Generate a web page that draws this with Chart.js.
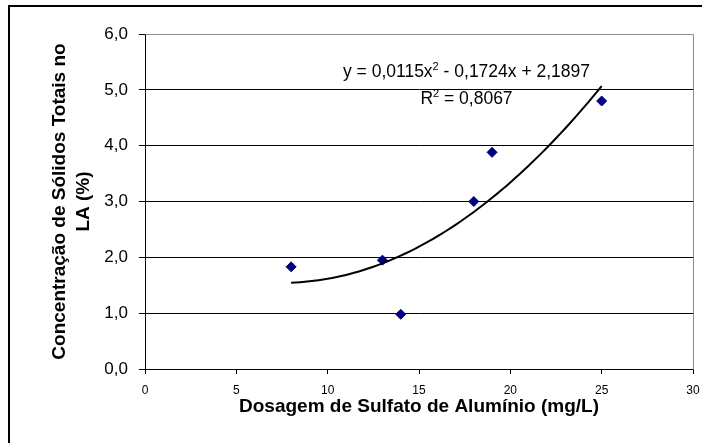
<!DOCTYPE html>
<html>
<head>
<meta charset="utf-8">
<script src="https://cdn.jsdelivr.net/npm/chart.js@4/dist/chart.umd.min.js"></script>
<style>
  html, body { margin: 0; padding: 0; background: #fff; }
  canvas { display: block; }
</style>
</head>
<body>
<canvas id="grafico" width="702" height="443"></canvas>
<script>
// Dados
const dosagem = [8, 13, 14, 18, 19, 25];               // mg/L
const concentracao = [1.83, 1.95, 0.98, 3.0, 3.88, 4.8]; // %

// Linha de tendência polinomial (equação mostrada no gráfico)
const coefTendencia = [0.0115, -0.1724, 2.1897];
const faixaTendencia = [8, 25];
const textoEquacao = ['y = 0,0115x', '2', ' - 0,1724x + 2,1897'];
const textoR2 = ['R', '2', ' = 0,8067'];

const xTicks = [0, 5, 10, 15, 20, 25, 30];
const yTickLabels = ['0,0', '1,0', '2,0', '3,0', '4,0', '5,0', '6,0'];

const FONTE = "'Liberation Sans', Arial, sans-serif";

// pontos da curva a partir da equação
const curva = [];
for (let x = faixaTendencia[0]; x <= faixaTendencia[1] + 1e-9; x += 0.25) {
  curva.push({ x: x, y: coefTendencia[0] * x * x + coefTendencia[1] * x + coefTendencia[2] });
}

// desenha texto com expoente
function textoSobrescrito(ctx, partes, cx, base) {
  const normal = '17.5px ' + FONTE, sup = '11px ' + FONTE;
  ctx.font = normal; const w0 = ctx.measureText(partes[0]).width;
  ctx.font = sup; const w1 = ctx.measureText(partes[1]).width;
  ctx.font = normal; const w2 = ctx.measureText(partes[2]).width;
  let x = cx - (w0 + w1 + w2) / 2;
  ctx.textAlign = 'left';
  ctx.textBaseline = 'alphabetic';
  ctx.font = normal; ctx.fillText(partes[0], x, base); x += w0;
  ctx.font = sup; ctx.fillText(partes[1], x, base - 7); x += w1;
  ctx.font = normal; ctx.fillText(partes[2], x, base);
}

const molduraPlugin = {
  id: 'moldura',
  beforeDraw(chart) {
    const ctx = chart.ctx;
    ctx.save();
    ctx.fillStyle = '#fff';
    ctx.fillRect(0, 0, chart.width, chart.height);
    ctx.strokeStyle = '#000';
    ctx.lineWidth = 2;
    ctx.strokeRect(9, 6, 800, 600);
    ctx.restore();
  },
  beforeDatasetsDraw(chart) {
    const a = chart.chartArea, ctx = chart.ctx;
    ctx.save();
    ctx.strokeStyle = '#8c8c8c';
    ctx.lineWidth = 1;
    ctx.beginPath();
    ctx.moveTo(Math.round(a.left) + 0.5, Math.round(a.top) + 0.5);
    ctx.lineTo(Math.round(a.right) + 0.5, Math.round(a.top) + 0.5);
    ctx.lineTo(Math.round(a.right) + 0.5, Math.round(a.bottom) + 0.5);
    ctx.stroke();
    ctx.restore();
  },
  afterDatasetsDraw(chart) {
    const ctx = chart.ctx, sx = chart.scales.x, sy = chart.scales.y;
    ctx.save();
    ctx.fillStyle = '#000';
    const cx = sx.getPixelForValue(17.6);
    textoSobrescrito(ctx, textoEquacao, cx, sy.getPixelForValue(5.23));
    textoSobrescrito(ctx, textoR2, cx, sy.getPixelForValue(4.75));
    ctx.restore();
  }
};

new Chart(document.getElementById('grafico'), {
  type: 'scatter',
  data: {
    datasets: [
      {
        label: 'Tendência',
        type: 'line',
        data: curva,
        borderColor: '#000',
        borderWidth: 2,
        pointRadius: 0,
        tension: 0,
        fill: false,
        order: 0
      },
      {
        label: 'Concentração',
        data: dosagem.map((x, i) => ({ x: x, y: concentracao[i] })),
        pointStyle: 'rectRot',
        pointRadius: 5,
        backgroundColor: '#000080',
        borderColor: '#000080',
        borderWidth: 1,
        order: 1
      }
    ]
  },
  options: {
    responsive: false,
    animation: false,
    layout: { padding: { top: 34, right: 9, left: 0, bottom: 0 } },
    plugins: { legend: { display: false }, tooltip: { enabled: false } },
    scales: {
      x: {
        type: 'linear',
        min: 0, max: 30,
        afterBuildTicks(scale) { scale.ticks = xTicks.map(v => ({ value: v })); },
        afterFit(scale) { scale.height = 74; scale.paddingLeft = 0; scale.paddingRight = 0; },
        grid: { drawOnChartArea: false, drawTicks: true, tickLength: 5, tickColor: '#000' },
        border: { display: true, color: '#000', width: 1 },
        ticks: { color: '#000', font: { family: FONTE, size: 12 }, padding: 9, maxRotation: 0 },
        title: {
          display: true,
          text: 'Dosagem de Sulfato de Alumínio (mg/L)',
          color: '#000',
          font: { family: FONTE, size: 19, weight: 'bold', lineHeight: 1.2 },
          padding: { top: 0, bottom: 25 }
        }
      },
      y: {
        min: 0, max: 6,
        ticks: {
          stepSize: 1,
          color: '#000',
          font: { family: FONTE, size: 17 },
          padding: 11,
          callback: (v, i) => yTickLabels[i]
        },
        afterFit(scale) { scale.width = 145; scale.paddingTop = 0; scale.paddingBottom = 0; },
        grid: {
          color: ctx => (ctx.tick && ctx.tick.value === 6 ? '#8c8c8c' : '#000'),
          tickColor: '#000',
          lineWidth: 1,
          tickLength: 6
        },
        border: { display: true, color: '#000', width: 1 },
        title: {
          display: true,
          text: ['Concentração de Sólidos Totais no', 'LA (%)'],
          color: '#000',
          font: { family: FONTE, size: 19, weight: 'bold', lineHeight: 1.263 },
          padding: { top: 48, bottom: 0 }
        }
      }
    }
  },
  plugins: [molduraPlugin]
});
</script>
</body>
</html>
